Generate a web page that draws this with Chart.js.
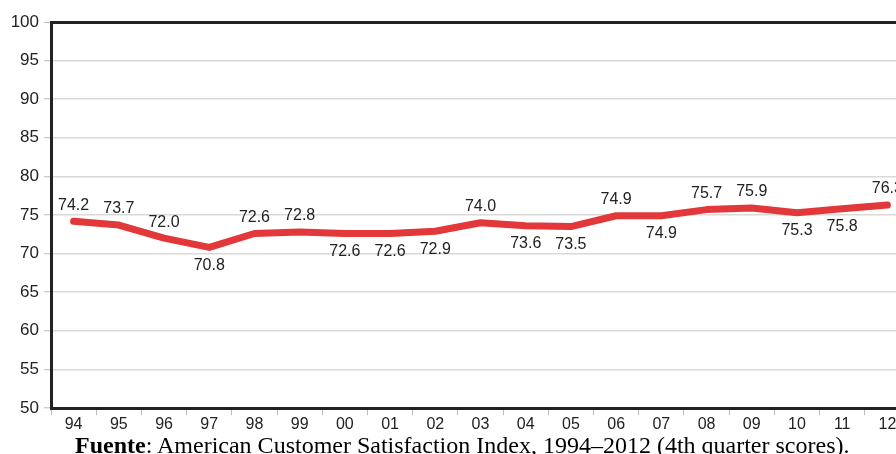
<!DOCTYPE html>
<html lang="es">
<head>
<meta charset="UTF-8">
<title>ACSI 1994-2012</title>
<script src="https://cdn.jsdelivr.net/npm/chart.js"></script>
<style>
    html, body { margin: 0; padding: 0; background: #fff; overflow: hidden; width: 896px; height: 454px; }
    #wrap { position: absolute; left: 0; top: 0; width: 920px; height: 440px; }
    #caption {
        position: absolute; left: 75px; top: 433px; white-space: nowrap; line-height: 1;
        font-family: "Liberation Serif", "Times New Roman", serif; font-size: 24px; color: #000;
    }
</style>
</head>
<body>
<div id="wrap"><canvas id="acsiChart" width="920" height="440"></canvas></div>
<div id="caption"><b>Fuente</b>: American Customer Satisfaction Index, 1994–2012 (4th quarter scores).</div>

<script>
    const years = ["94", "95", "96", "97", "98", "99", "00", "01", "02", "03", "04", "05", "06", "07", "08", "09", "10", "11", "12"];
    const scores = [74.2, 73.7, 72.0, 70.8, 72.6, 72.8, 72.6, 72.6, 72.9, 74.0, 73.6, 73.5, 74.9, 74.9, 75.7, 75.9, 75.3, 75.8, 76.3];
    // where each value label sits relative to the line
    const labelSide = ["up", "up", "up", "down", "up", "up", "down", "down", "down", "up", "down", "down", "up", "down", "up", "up", "down", "down", "up"];
    const yMin = 50, yMax = 100, yStep = 5;

    const valueLabels = {
        id: "valueLabels",
        afterDatasetsDraw(chart) {
            const ctx = chart.ctx;
            const meta = chart.getDatasetMeta(0);
            ctx.save();
            ctx.font = "16px 'Liberation Sans', Arial, sans-serif";
            ctx.fillStyle = "#222";
            ctx.textAlign = "center";
            ctx.textBaseline = "middle";
            meta.data.forEach((pt, i) => {
                const dy = labelSide[i] === "up" ? -16 : 18;
                ctx.fillText(scores[i].toFixed(1), pt.x, pt.y + dy);
            });
            ctx.restore();
        }
    };

    new Chart(document.getElementById("acsiChart"), {
        type: "line",
        data: {
            labels: years,
            datasets: [{
                data: scores,
                borderColor: "#e2383a",
                borderWidth: 7,
                borderCapStyle: "round",
                borderJoinStyle: "round",
                pointRadius: 0,
                tension: 0,
                fill: false
            }]
        },
        options: {
            responsive: false,
            animation: false,
            layout: { padding: { top: 22, right: 10, left: 0, bottom: 0 } },
            plugins: { legend: { display: false }, tooltip: { enabled: false } },
            scales: {
                x: {
                    offset: true,
                    grid: {
                        offset: true,
                        drawOnChartArea: false,
                        drawTicks: true,
                        tickLength: 7,
                        tickColor: "#bbb",
                        tickWidth: 1
                    },
                    border: { color: "#222", width: 3 },
                    ticks: {
                        padding: 0,
                        color: "#222",
                        font: { family: "'Liberation Sans', Arial, sans-serif", size: 16 },
                        maxRotation: 0,
                        autoSkip: false
                    },
                    afterFit(scale) { scale.height = 32; }
                },
                y: {
                    min: yMin,
                    max: yMax,
                    grid: {
                        color: c => c.tick && c.tick.value === yMax ? "#222" : "#d9d9d9",
                        lineWidth: c => c.tick && c.tick.value === yMax ? 3 : 1.5,
                        tickLength: 7,
                        tickColor: "#bbb",
                        tickWidth: 1
                    },
                    border: { color: "#222", width: 3 },
                    ticks: {
                        stepSize: yStep,
                        padding: 5,
                        color: "#222",
                        font: { family: "'Liberation Sans', Arial, sans-serif", size: 17 }
                    },
                    afterFit(scale) { scale.width = 51; }
                }
            }
        },
        plugins: [valueLabels]
    });
</script>
</body>
</html>
